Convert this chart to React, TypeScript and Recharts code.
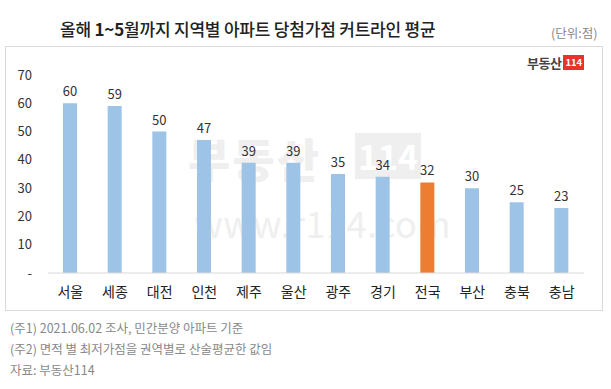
import React from 'react';
import { BarChart, Bar, XAxis, YAxis, Cell, LabelList } from 'recharts';

const regions = ['서울', '세종', '대전', '인천', '제주', '울산', '광주', '경기', '전국', '부산', '충북', '충남'];
const scores = [60, 59, 50, 47, 39, 39, 35, 34, 32, 30, 25, 23];
const yTicks = [0, 10, 20, 30, 40, 50, 60, 70];
const notes = [
  '(주1) 2021.06.02 조사, 민간분양 아파트 기준',
  '(주2) 면적 별 최저가점을 권역별로 산술평균한 값임',
  '자료: 부동산114',
];

const BLUE = '#9dc3e6';
const ORANGE = '#ed7d31';
const FONT = '"Noto Sans CJK KR", "Noto Sans", sans-serif';

const data = regions.map((name, i) => ({ name, score: scores[i] }));

export default function App() {
  return (
    <div
      style={{
        position: 'fixed',
        left: 0,
        top: 0,
        width: 611,
        height: 389,
        background: '#fff',
        fontFamily: FONT,
        overflow: 'hidden',
      }}
    >
      {/* title */}
      <div
        style={{
          position: 'absolute',
          left: 60,
          top: 16,
          fontSize: 17,
          fontWeight: 500,
          color: '#222',
          letterSpacing: -0.2,
        }}
      >
        올해 <b>1~5</b>월까지 지역별 아파트 당첨가점 커트라인 평균
      </div>
      <div style={{ position: 'absolute', left: 551, top: 23, fontSize: 12.5, color: '#888' }}>
        (단위:점)
      </div>

      {/* panel */}
      <div
        style={{
          position: 'absolute',
          left: 5,
          top: 46,
          width: 598,
          height: 265,
          border: '1px solid #d9d9d9',
          boxSizing: 'border-box',
        }}
      />

      {/* watermark, sits behind the bars */}
      <div style={{ position: 'absolute', left: 0, top: 0, width: 611, height: 389, pointerEvents: 'none' }}>
        <div
          style={{
            position: 'absolute',
            left: 188,
            top: 124,
            fontSize: 46,
            fontWeight: 900,
            color: '#efefef',
            letterSpacing: 2,
          }}
        >
          부동산
        </div>
        <div
          style={{
            position: 'absolute',
            left: 355,
            top: 133,
            width: 66,
            height: 46,
            background: '#efefef',
            color: '#fff',
            fontSize: 34,
            fontWeight: 700,
            textAlign: 'center',
            lineHeight: '46px',
          }}
        >
          114
        </div>
        <div
          style={{
            position: 'absolute',
            left: 194,
            top: 196,
            fontSize: 36,
            color: '#efefef',
            letterSpacing: 0.5,
          }}
        >
          www.r114.com
        </div>
      </div>

      {/* logo */}
      <div style={{ position: 'absolute', left: 527, top: 53, display: 'flex', alignItems: 'center' }}>
        <span style={{ fontSize: 13, fontWeight: 700, color: '#444', letterSpacing: -0.5 }}>부동산</span>
        <span
          style={{
            marginLeft: 2,
            background: '#e8322a',
            color: '#fff',
            fontSize: 9.5,
            fontWeight: 700,
            padding: '1px 2px',
            lineHeight: '13px',
          }}
        >
          114
        </span>
      </div>

      <div style={{ position: 'absolute', left: 0, top: 0 }}>
        <BarChart
          width={611}
          height={389}
          data={data}
          margin={{ top: 75, right: 27, bottom: 96, left: 8 }}
        >
          <YAxis
            type="number"
            domain={[0, 70]}
            ticks={yTicks}
            width={40}
            axisLine={false}
            tickLine={false}
            tickSize={0}
            tickMargin={16}
            tick={{ fill: '#333', fontSize: 13, fontFamily: FONT }}
            tickFormatter={(v: number) => (v === 0 ? '-' : String(v))}
          />
          <XAxis
            dataKey="name"
            height={20}
            axisLine={{ stroke: '#d9d9d9' }}
            tickLine={false}
            tickSize={0}
            tickMargin={14}
            tick={{ fill: '#222', fontSize: 14, fontFamily: FONT }}
            interval={0}
          />
          <Bar dataKey="score" barSize={14} isAnimationActive={false}>
            {data.map((d) => (
              <Cell key={d.name} fill={d.name === '전국' ? ORANGE : BLUE} />
            ))}
            <LabelList
              dataKey="score"
              position="top"
              offset={7}
              style={{ fill: '#333', fontSize: 13, fontFamily: FONT }}
            />
          </Bar>
        </BarChart>
      </div>

      {/* notes */}
      {notes.map((n, i) => (
        <div
          key={n}
          style={{
            position: 'absolute',
            left: 10,
            top: 318 + i * 21,
            fontSize: 12.5,
            color: '#888',
          }}
        >
          {n}
        </div>
      ))}
    </div>
  );
}
